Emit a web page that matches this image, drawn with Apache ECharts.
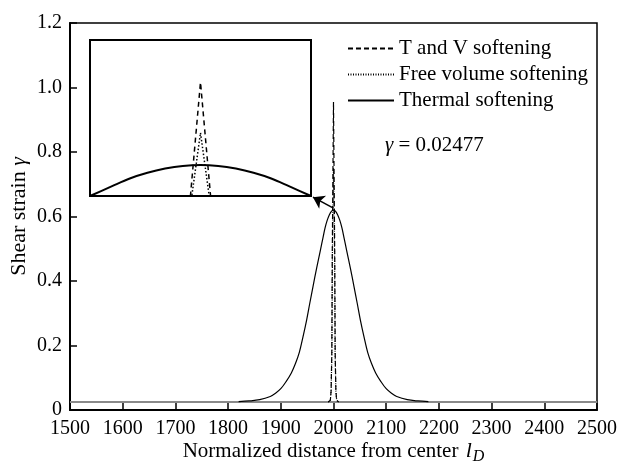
<!DOCTYPE html>
<html><head><meta charset="utf-8">
<script src="https://cdn.jsdelivr.net/npm/echarts@6/dist/echarts.min.js"></script>
<style>html,body{margin:0;padding:0;background:#fff}#c{width:617px;height:462px}</style>
</head><body><div id="c"></div>
<script>
// ---- data ----
const thermalX = [1820,1840,1860,1880,1890,1900,1910,1920,1928,1935,1942,1949,1955,1961,1968,1975,1980,1984,1988,1992,1996,2000,2004,2008,2012,2016,2020,2025,2032,2039,2045,2051,2058,2065,2072,2080,2090,2100,2110,2120,2140,2160,2180];
const thermalY = [0.026,0.028,0.032,0.042,0.052,0.066,0.088,0.115,0.145,0.178,0.226,0.279,0.331,0.382,0.440,0.494,0.534,0.565,0.588,0.605,0.616,0.620,0.616,0.605,0.588,0.565,0.534,0.494,0.440,0.382,0.331,0.279,0.226,0.178,0.145,0.115,0.088,0.066,0.052,0.042,0.032,0.028,0.026];
const tvX = [1990,1994,1995.5,1996.8,1997.7,2000,2002.3,2003.2,2004.5,2006,2010];
const tvY = [0.02477,0.030,0.060,0.180,0.490,0.955,0.490,0.180,0.060,0.030,0.02477];
const fvX = [1990,1994,1995.5,1997,1998,2000,2002,2003,2004.5,2006,2010];
const fvY = [0.02477,0.030,0.060,0.180,0.490,0.750,0.490,0.180,0.060,0.030,0.02477];
const baseX = [1500,2500];
const baseY = [0.02477,0.02477];
const seriesNames = ['T and V softening','Free volume softening','Thermal softening'];
const yTicks = [0,0.2,0.4,0.6,0.8,1.0,1.2];
const arrowFrom = [1999,0.627];
const arrowTo = [1961,0.660];
const strainText = '0.02477';

const pairs = (xs, ys) => xs.map((x, i) => [x, ys[i]]);
const FONT = 'Liberation Serif';
const chart = echarts.init(document.getElementById('c'), null, {renderer: 'canvas'});

const lineBase = {type: 'line', symbol: 'none', silent: true, animation: false};
const option = {
  backgroundColor: '#fff',
  animation: false,
  textStyle: {fontFamily: FONT, color: '#000'},
  grid: [
    {left: 70, right: 20, top: 23, bottom: 52, show: true, borderColor: '#000', borderWidth: 1.5, containLabel: false, outerBoundsMode: 'none'},
    {left: 90, top: 40, width: 221, height: 156, show: true, borderColor: '#000', borderWidth: 2, backgroundColor: '#fff', z: 5, outerBoundsMode: 'none'}
  ],
  xAxis: [
    {gridIndex: 0, type: 'value', min: 1500, max: 2500, interval: 100,
     name: '{n|Normalized distance from center }{i|l}{s|D}', nameLocation: 'middle', nameGap: 27, nameMoveOverlap: false,
     nameTextStyle: {rich: {
       n: {fontFamily: FONT, fontSize: 21, color: '#000'},
       i: {fontFamily: FONT, fontSize: 22, fontStyle: 'italic', color: '#000', padding: [0, 1, 0, 2]},
       s: {fontFamily: FONT, fontSize: 16, fontStyle: 'italic', color: '#000', verticalAlign: 'bottom', padding: [12, 0, 0, 0]}
     }},
     axisLine: {show: true, lineStyle: {color: '#000', width: 2}},
     axisTick: {show: true, inside: true, length: 7, lineStyle: {color: '#000', width: 1.5}},
     axisLabel: {fontFamily: FONT, fontSize: 20, color: '#000', margin: 9, formatter: v => String(v)},
     splitLine: {show: false}},
    {gridIndex: 1, type: 'value', min: 1975, max: 2025, show: false}
  ],
  yAxis: [
    {gridIndex: 0, type: 'value', min: 0, max: 1.2, interval: 0.2,
     name: '{n|Shear strain }{i|γ}', nameLocation: 'middle', nameGap: 40, nameMoveOverlap: false,
     nameTextStyle: {rich: {
       n: {fontFamily: FONT, fontSize: 22, color: '#000'},
       i: {fontFamily: FONT, fontSize: 22, fontStyle: 'italic', color: '#000'}
     }},
     axisLine: {show: true, lineStyle: {color: '#000', width: 2}},
     axisTick: {show: true, inside: true, length: 7, lineStyle: {color: '#000', width: 1.5}},
     axisLabel: {fontFamily: FONT, fontSize: 20, color: '#000', margin: 8,
       formatter: v => { const t = yTicks.find(k => Math.abs(k - v) < 1e-9); return t === 0 ? '0' : (t !== undefined ? t.toFixed(1) : ''); }},
     splitLine: {show: false}},
    {gridIndex: 1, type: 'value', min: 0.494, max: 1.126, show: false}
  ],
  legend: {
    orient: 'vertical', left: 347, top: 38, padding: 0, itemWidth: 46, itemHeight: 12, itemGap: 5,
    data: seriesNames, selectedMode: false,
    itemStyle: {opacity: 0},
    textStyle: {fontFamily: FONT, fontSize: 21, color: '#000'}
  },
  graphic: [
    {type: 'text', left: 385, top: 135, silent: true,
     style: {text: '{i|γ}{n| = ' + strainText + '}', rich: {
       i: {fontFamily: FONT, fontSize: 21, fontStyle: 'italic', fill: '#000'},
       n: {fontFamily: FONT, fontSize: 21, fill: '#000'}
     }}}
  ],
  series: [
    Object.assign({}, lineBase, {name: 'baseline', xAxisIndex: 0, yAxisIndex: 0, data: pairs(baseX, baseY),
      lineStyle: {color: '#8a8a8a', width: 2}, z: 1}),
    Object.assign({}, lineBase, {name: seriesNames[2], xAxisIndex: 0, yAxisIndex: 0, data: pairs(thermalX, thermalY), smooth: 0.35,
      lineStyle: {color: '#000', width: 1.2, type: 'solid'}, z: 2,
      markLine: {silent: true, symbol: ['none', 'arrow'], symbolSize: 11, animation: false,
        label: {show: false}, lineStyle: {color: '#000', width: 1.5, type: 'solid'},
        data: [[{coord: arrowFrom}, {coord: arrowTo}]]}}),
    Object.assign({}, lineBase, {name: seriesNames[0], xAxisIndex: 0, yAxisIndex: 0, data: pairs(tvX, tvY),
      lineStyle: {color: '#000', width: 1.2, type: [5, 3]}, z: 3}),
    Object.assign({}, lineBase, {name: seriesNames[1], xAxisIndex: 0, yAxisIndex: 0, data: pairs(fvX, fvY),
      lineStyle: {color: '#000', width: 1.2, type: [1, 1.5]}, z: 3}),
    // inset (zoomed view of the peak)
    Object.assign({}, lineBase, {name: seriesNames[2], xAxisIndex: 1, yAxisIndex: 1, data: pairs(thermalX, thermalY), smooth: 0.35,
      lineStyle: {color: '#000', width: 2}, z: 6}),
    Object.assign({}, lineBase, {name: seriesNames[0], xAxisIndex: 1, yAxisIndex: 1, data: pairs(tvX, tvY),
      lineStyle: {color: '#000', width: 1.5, type: [5, 4]}, z: 6}),
    Object.assign({}, lineBase, {name: seriesNames[1], xAxisIndex: 1, yAxisIndex: 1, data: pairs(fvX, fvY),
      lineStyle: {color: '#000', width: 1.5, type: [1.5, 2]}, z: 6})
  ]
};
chart.setOption(option);
</script></body></html>
